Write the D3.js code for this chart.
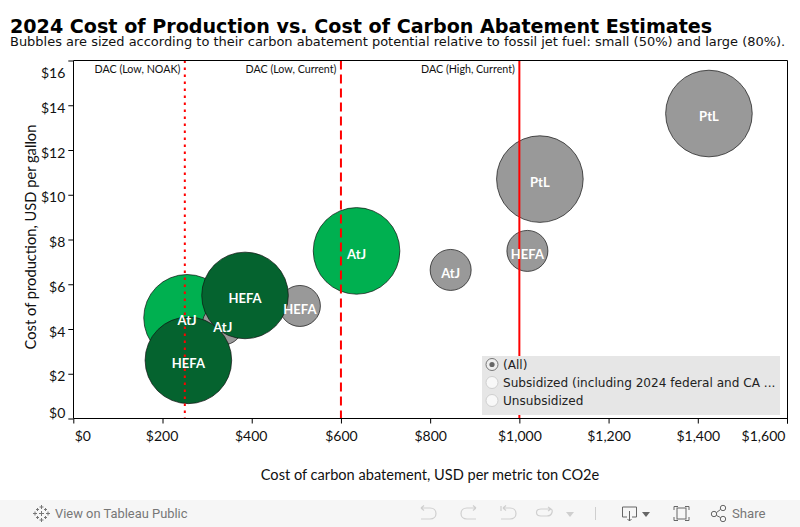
<!DOCTYPE html>
<html><head><meta charset="utf-8">
<script src="https://cdnjs.cloudflare.com/ajax/libs/d3/7.8.5/d3.min.js"></script>
<style>html,body{margin:0;padding:0;background:#fff;overflow:hidden}svg{display:block}</style>
</head><body><svg id="c" width="800" height="527"></svg>
<script>
const titleText="2024 Cost of Production vs. Cost of Carbon Abatement Estimates";
const subtitleText="Bubbles are sized according to their carbon abatement potential relative to fossil jet fuel: small (50%) and large (80%).";
const xTitle="Cost of carbon abatement, USD per metric ton CO2e";
const yTitle="Cost of production, USD per gallon";
const xTicks=[0,200,400,600,800,1000,1200,1400,1600];
const yTicks=[0,2,4,6,8,10,12,14,16];
const pathways=["PtL","PtL","AtJ","AtJ","HEFA","HEFA","AtJ","AtJ","HEFA","HEFA"];
const abatement=[1425,1046,635,846,1018,508,255,335,385,258];
const production=[13.63,10.7,7.49,6.64,7.49,5.03,4.5,4.2,5.5,2.6];
const potential=[80,80,80,50,50,50,80,50,80,80];
const status=["u","u","s","u","u","u","s","u","d","d"];
const refValues=[250,600,1000];
const refNames=["DAC (Low, NOAK)","DAC (Low, Current)","DAC (High, Current)"];
const refDash=["2.5,4.5","9,5",null];
const filterOptions=["(All)","Subsidized (including 2024 federal and CA ...","Unsubsidized"];
const colorOf={u:"#999999",s:"#00b050",d:"#05632f"};

const svg=d3.select("#c");
const body="Lato, 'Open Sans', sans-serif", dj="'DejaVu Sans', sans-serif";
const x=d3.scaleLinear().domain([0,1600]).range([73.3,787]);
const y=d3.scaleLinear().domain([0,16]).range([418.5,60.5]);
const r=d3.scaleSqrt().domain([0,50,80]).range([0,20.5,43.3]);

svg.append("text").attr("x",10).attr("y",33).attr("font-family",dj).attr("font-weight","bold").attr("font-size",19.13).attr("fill","#000").text(titleText);
svg.append("text").attr("x",10).attr("y",46).attr("font-family",dj).attr("font-size",12.97).attr("fill","#111").text(subtitleText);

const data=pathways.map((p,i)=>({p,x:abatement[i],y:production[i],r:potential[i],c:status[i]}));
svg.append("g").selectAll("circle").data(data).join("circle")
 .attr("cx",d=>x(d.x)).attr("cy",d=>y(d.y)).attr("r",d=>r(d.r))
 .attr("fill",d=>colorOf[d.c]).attr("stroke","#111").attr("stroke-width",0.7);

svg.append("g").selectAll("line").data(refValues).join("line")
 .attr("x1",d=>x(d)).attr("x2",d=>x(d)).attr("y1",60.5).attr("y2",418)
 .attr("stroke","#ff0000").attr("stroke-width",2).attr("stroke-dasharray",(d,i)=>refDash[i]);
svg.append("g").selectAll("text").data(refValues).join("text")
 .attr("x",d=>x(d)-4.5).attr("y",73).attr("text-anchor","end").attr("font-family",body).attr("font-size",10.7).attr("fill","#111")
 .text((d,i)=>refNames[i]);

svg.append("g").selectAll("text").data(data).join("text")
 .attr("x",d=>x(d.x)).attr("y",d=>y(d.y)+7.6).attr("text-anchor","middle").attr("font-family",body).attr("font-weight","bold")
 .attr("font-size",13).attr("fill","#fff").text(d=>d.p);

const fmt=d=>"$"+d3.format(",")(d);
const gx=svg.append("g").attr("transform","translate(0,418.5)").call(d3.axisBottom(x).tickValues(xTicks).tickFormat(fmt).tickSize(5).tickPadding(8));
const gy=svg.append("g").attr("transform","translate(73.3,0)").call(d3.axisLeft(y).tickValues(yTicks).tickFormat(fmt).tickSize(5).tickPadding(3));
[gx,gy].forEach(g=>{g.select(".domain").remove();g.selectAll("line").attr("stroke","#000");
 g.selectAll("text").attr("font-family",body).attr("font-size",14).attr("fill","#111");});
gx.selectAll("text").attr("dx",d=>d==0?9:d==1600?-24:d==200||d==400?-1:0);
gy.selectAll("text").attr("dy",d=>d==16?"1.2em":d==0?"-0.1em":"0.5em");
svg.append("g").selectAll("line").data([[73.5,60.5,73.5,418.5],[73.5,418.5,787.5,418.5],[73.5,60.5,787.5,60.5],[787.5,60.5,787.5,423.5]]).join("line")
 .attr("x1",d=>d[0]).attr("y1",d=>d[1]).attr("x2",d=>d[2]).attr("y2",d=>d[3]).attr("stroke","#000").attr("stroke-width",1);

svg.append("text").attr("x",430).attr("y",480).attr("text-anchor","middle").attr("font-family",body).attr("font-size",14.6).attr("fill","#111").text(xTitle);
svg.append("text").attr("transform","translate(36,237) rotate(-90)").attr("text-anchor","middle").attr("font-family",body).attr("font-size",14.7).attr("fill","#111").text(yTitle);

svg.append("rect").attr("x",482).attr("y",356).attr("width",298).attr("height",59).attr("fill","#e6e6e6");
const opt=svg.append("g").selectAll("g").data(filterOptions).join("g").attr("transform",(d,i)=>`translate(0,${364.5+i*18})`);
opt.append("circle").attr("cx",492).attr("cy",0).attr("r",6).attr("fill",(d,i)=>i==0?"#eeeeee":"#f8f8f8").attr("stroke",(d,i)=>i==0?"#777":"#cfcfcf");
opt.filter((d,i)=>i==0).append("circle").attr("cx",492).attr("cy",0).attr("r",2.6).attr("fill","#666");
opt.append("text").attr("x",503).attr("y",4.5).attr("font-family",dj).attr("font-size",12.1).attr("fill","#222").text(d=>d);

svg.append("rect").attr("x",0).attr("y",500).attr("width",800).attr("height",27).attr("fill","#f6f6f6");
const tb=svg.append("g").attr("fill","none").attr("stroke-linecap","butt");
const sym=tb.append("g").attr("stroke","#777").attr("stroke-width",1).attr("transform","translate(41.5,513.5)");
[[0,-6.5,2],[0,6.5,2],[-6.5,0,2],[6.5,0,2],[-4,-4,1.5],[4,-4,1.5],[-4,4,1.5],[4,4,1.5],[0,0,2.5]].forEach(q=>{
 sym.append("path").attr("d",`M${q[0]-q[2]},${q[1]}H${q[0]+q[2]}M${q[0]},${q[1]-q[2]}V${q[1]+q[2]}`);});
svg.append("text").attr("x",55).attr("y",518).attr("font-family","Roboto, sans-serif").attr("font-size",12.9).attr("fill","#777").text("View on Tableau Public");
const g1=tb.append("g").attr("stroke","#cfcfcf").attr("stroke-width",1.2);
g1.append("path").attr("d","M421,508H430C438,508 438,519 430,519H421M421,508l3,-2.500M421,508l3,2.500");
g1.append("path").attr("d","M476,508H467C459,508 459,519 467,519H476M476,508l-3,-2.500M476,508l-3,2.500");
g1.append("path").attr("d","M501,506V511M503,508H510C518,508 518,519 510,519H501M503,508l3,-2.500M503,508l3,2.500");
g1.append("path").attr("d","M551,509H541C535,509 535,516 541,516H547C553,516 553,509 551,509M551,509l-3,-2M551,509l-3,2");
tb.append("path").attr("d","M566,512h8l-4,5z").attr("fill","#cfcfcf");
tb.append("path").attr("d","M595.500,507V520").attr("stroke","#cfcfcf");
const g2=tb.append("g").attr("stroke","#666").attr("stroke-width",1);
g2.append("path").attr("d","M627,517H622.500V507H636.500V517H632M629.500,511V521M627.500,519l2,2l2,-2");
tb.append("path").attr("d","M642,512h8l-4,5z").attr("fill","#666");
g2.append("rect").attr("x",677).attr("y",508).attr("width",9).attr("height",11);
g2.append("path").attr("d","M674,510V506.500H678M685,506.500H689V510M689,517V520.500H685M678,520.500H674V517");
g2.append("circle").attr("cx",714).attr("cy",514).attr("r",2.7);
g2.append("circle").attr("cx",723).attr("cy",508).attr("r",2.7);
g2.append("circle").attr("cx",723).attr("cy",519).attr("r",2.7);
g2.append("path").attr("d","M716.500,512.500L720.500,509.500M716.500,515.500L720.500,517.500");
svg.append("text").attr("x",732).attr("y",518).attr("font-family","Roboto, sans-serif").attr("font-size",13.2).attr("fill","#777").text("Share");
</script></body></html>
